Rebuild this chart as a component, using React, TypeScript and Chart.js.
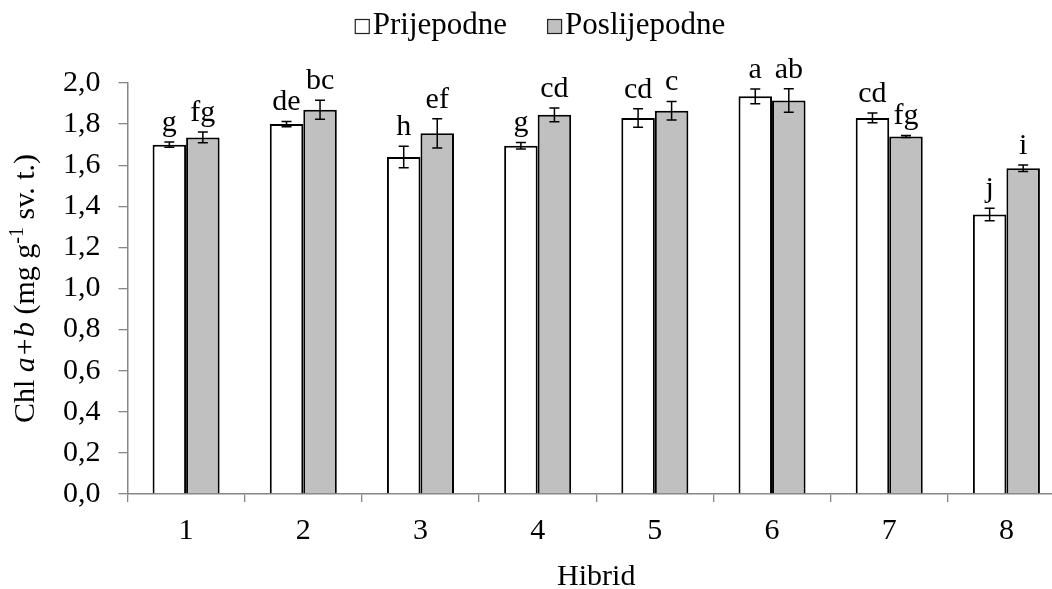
import React, { useEffect, useRef } from 'react';
import { Chart, registerables } from 'chart.js';

Chart.register(...registerables);

// Hybrids on the x axis
const hybrids = ['1', '2', '3', '4', '5', '6', '7', '8'];

// Series names
const seriesNames = ['Prijepodne', 'Poslijepodne'];

// Chl a+b content (mg g-1 fresh weight)
const morning = [1.70, 1.80, 1.64, 1.695, 1.83, 1.935, 1.83, 1.36];
const afternoon = [1.735, 1.87, 1.755, 1.845, 1.865, 1.915, 1.74, 1.585];

// Standard errors
const morningErr = [0.013, 0.013, 0.052, 0.016, 0.045, 0.036, 0.024, 0.03];
const afternoonErr = [0.026, 0.046, 0.071, 0.033, 0.045, 0.057, 0.005, 0.016];

// Significance letters
const morningLetters = ['g', 'de', 'h', 'g', 'cd', 'a', 'cd', 'j'];
const afternoonLetters = ['fg', 'bc', 'ef', 'cd', 'c', 'ab', 'fg', 'i'];

// Value axis range
const yMin = 0;
const yMax = 2.0;
const yStep = 0.2;

const FONT = '"Liberation Serif", "Times New Roman", serif';
const AXIS_GREY = '#868686';
const BAR_GREY = '#c0c0c0';
const W = 1080;
const H = 589;

const fills = ['#ffffff', BAR_GREY];
const errs = [morningErr, afternoonErr];
const letters = [morningLetters, afternoonLetters];

const annotate = {
  id: 'annotate',
  afterDatasetsDraw(chart: any) {
    const ctx = chart.ctx;
    const ys = chart.scales.y;
    chart.data.datasets.forEach((ds: any, di: number) => {
      const meta = chart.getDatasetMeta(di);
      meta.data.forEach((bar: any, i: number) => {
        const v = ds.data[i];
        const e = errs[di][i];
        const x = bar.x;
        const yTop = ys.getPixelForValue(v + e);
        const yBot = ys.getPixelForValue(v - e);
        ctx.save();
        ctx.strokeStyle = '#000';
        ctx.lineWidth = 1.5;
        ctx.beginPath();
        ctx.moveTo(x, yTop);
        ctx.lineTo(x, yBot);
        ctx.moveTo(x - 5, yTop);
        ctx.lineTo(x + 5, yTop);
        ctx.moveTo(x - 5, yBot);
        ctx.lineTo(x + 5, yBot);
        ctx.stroke();
        ctx.font = `30px ${FONT}`;
        ctx.fillStyle = '#000';
        ctx.textAlign = 'center';
        ctx.textBaseline = 'alphabetic';
        ctx.fillText(letters[di][i], x, yTop - 11);
        ctx.restore();
      });
    });
  },
  afterDraw(chart: any) {
    const ctx = chart.ctx;
    const area = chart.chartArea;
    ctx.save();
    ctx.fillStyle = '#000';

    // Legend
    ctx.font = `31px ${FONT}`;
    ctx.textBaseline = 'alphabetic';
    ctx.textAlign = 'left';
    const box = 15;
    const gap = 3;
    const itemGap = 40;
    const widths = seriesNames.map((s) => ctx.measureText(s).width);
    const total = widths.reduce((a, w) => a + box + gap + w, 0) + itemGap * (seriesNames.length - 1);
    let lx = chart.width / 2 - total / 2;
    seriesNames.forEach((s, i) => {
      ctx.fillStyle = fills[i];
      ctx.fillRect(lx, 19, box, box);
      ctx.strokeStyle = '#222';
      ctx.lineWidth = 1.2;
      ctx.strokeRect(lx + 0.5, 19.5, box - 1, box - 1);
      ctx.fillStyle = '#000';
      ctx.fillText(s, lx + box + gap, 34);
      lx += box + gap + widths[i] + itemGap;
    });

    // x axis title
    ctx.font = `30px ${FONT}`;
    ctx.textAlign = 'center';
    ctx.fillText('Hibrid', (area.left + area.right) / 2, 585);

    // y axis title with italic and superscript parts
    const parts = [
      { t: 'Chl ', f: `30px ${FONT}`, dy: 0 },
      { t: 'a+b', f: `italic 30px ${FONT}`, dy: 0 },
      { t: ' (mg g', f: `30px ${FONT}`, dy: 0 },
      { t: '-1', f: `20px ${FONT}`, dy: -11 },
      { t: ' sv. t.)', f: `30px ${FONT}`, dy: 0 },
    ];
    const pw = parts.map((p) => {
      ctx.font = p.f;
      return ctx.measureText(p.t).width;
    });
    const tw = pw.reduce((a, b) => a + b, 0);
    ctx.translate(34, (area.top + area.bottom) / 2);
    ctx.rotate(-Math.PI / 2);
    ctx.textAlign = 'left';
    let px = -tw / 2;
    parts.forEach((p, i) => {
      ctx.font = p.f;
      ctx.fillText(p.t, px, p.dy);
      px += pw[i];
    });
    ctx.restore();
  },
};

export default function App() {
  const ref = useRef<HTMLCanvasElement>(null);

  useEffect(() => {
    if (!ref.current) return;
    const chart = new Chart(ref.current, {
      type: 'bar',
      data: {
        labels: hybrids,
        datasets: [
          {
            label: seriesNames[0],
            data: morning,
            backgroundColor: fills[0],
            borderColor: '#000',
            borderWidth: 2,
            categoryPercentage: 0.572,
            barPercentage: 1,
          },
          {
            label: seriesNames[1],
            data: afternoon,
            backgroundColor: fills[1],
            borderColor: '#000',
            borderWidth: 2,
            categoryPercentage: 0.572,
            barPercentage: 1,
          },
        ],
      },
      options: {
        responsive: false,
        animation: false,
        devicePixelRatio: 1,
        layout: { padding: { top: 83, right: 15, left: 0, bottom: 0 } },
        plugins: {
          legend: { display: false },
          tooltip: { enabled: false },
        },
        scales: {
          x: {
            grid: {
              display: true,
              drawOnChartArea: false,
              drawTicks: true,
              tickLength: 8,
              color: AXIS_GREY,
              lineWidth: 1.3,
              offset: true,
            },
            border: { display: true, color: AXIS_GREY, width: 1.5 },
            ticks: {
              color: '#000',
              font: { family: FONT, size: 30 },
              padding: 11,
              maxRotation: 0,
            },
            afterFit: (scale: any) => {
              scale.height = 95;
            },
          },
          y: {
            min: yMin,
            max: yMax,
            grid: {
              display: true,
              drawOnChartArea: false,
              drawTicks: true,
              tickLength: 9,
              color: AXIS_GREY,
              lineWidth: 1.3,
            },
            border: { display: true, color: AXIS_GREY, width: 1.5 },
            ticks: {
              stepSize: yStep,
              color: '#000',
              font: { family: FONT, size: 30 },
              padding: 18,
              callback: (v: any) => Number(v).toFixed(1).replace('.', ','),
            },
            afterFit: (scale: any) => {
              scale.width = 127.5;
            },
          },
        },
      },
      plugins: [annotate],
    });
    return () => chart.destroy();
  }, []);

  return (
    <div
      style={{
        position: 'fixed',
        left: 0,
        top: 0,
        width: 1052,
        height: H,
        overflow: 'hidden',
        background: '#fff',
      }}
    >
      <canvas ref={ref} width={W} height={H} style={{ width: W, height: H }} />
    </div>
  );
}
